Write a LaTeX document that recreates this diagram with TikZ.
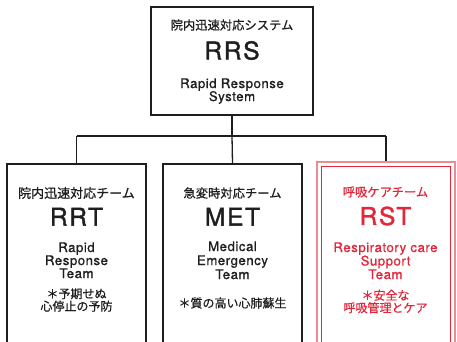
\documentclass[tikz,border=0pt]{standalone}
\usepackage{fontspec}
\setmainfont{TeX Gyre Heros}
\newfontfamily\enfont[LetterSpace=4,FakeBold=0.9]{TeX Gyre Heros}
\newfontfamily\abfont[LetterSpace=7,FakeBold=1.6]{TeX Gyre Heros}
\newfontfamily\jp[FakeBold=0.7]{Noto Sans CJK JP}
\definecolor{ink}{HTML}{1E1E1E}
\definecolor{rstred}{HTML}{E3263A}
\definecolor{rstpink}{HTML}{EE8A92}
\begin{document}
\begin{tikzpicture}[x=1pt,y=-1pt,
  box/.style={draw=ink,line width=1.3pt,rectangle,inner sep=0pt},
  conn/.style={draw=ink,line width=1.3pt},
  jptxt/.style={font=\jp\fontsize{12.3}{13}\selectfont,text=ink,inner sep=0pt},
  abbr/.style={font=\abfont\fontsize{24.5}{25}\selectfont,text=ink,inner sep=0pt},
  en/.style={font=\enfont\fontsize{13.2}{13.5}\selectfont,text=ink,inner sep=0pt,anchor=base},
  note/.style={font=\jp\fontsize{12}{12.5}\selectfont,text=ink,inner sep=0pt,align=center}]
\useasboundingbox (0,0) rectangle (457,341);
\clip (0,0) rectangle (457,341);
% boxes
\node[box,minimum width=162,minimum height=108] (rrs) at (232,61) {};
\node[box,minimum width=139,minimum height=200] (rrt) at (76.5,264) {};
\node[box,minimum width=139,minimum height=200] (met) at (232.5,264) {};
\node[draw=rstpink,line width=1.1pt,minimum width=138,minimum height=204,inner sep=0pt] (rsto) at (386,264) {};
\node[draw=rstred,line width=1pt,minimum width=129,minimum height=196,inner sep=0pt] (rst) at (385.5,264) {};
% connectors
\coordinate (j) at (232,136);
\coordinate (jl) at (rrt.north |- j);
\coordinate (jr) at (rsto.north |- j);
\draw[conn] (rrs.south) -- (j);
\draw[conn] (jl) -- (jr);
\draw[conn] (jl) -- (rrt.north);
\draw[conn] (j) -- (met.north);
\draw[conn] (jr) -- (rsto.north);
% RRS text
\node[jptxt] (t1) at (232,25) {院内迅速対応システム};
\node[abbr] (t2) at (232,50.5) {RRS};
\node[en] (t3) at (232,88) {Rapid Response};
\node[en] (t4) at (232,101) {System};
% RRT
\node[jptxt,font=\jp\fontsize{13}{13}\selectfont] (a1) at (76.5,193) {院内迅速対応チーム};
\node[abbr] (a2) at (76.5,216.7) {RRT};
\node[en] (a3) at (76.5,252) {Rapid};
\node[en] (a4) at (76.5,265) {Response};
\node[en] (a5) at (76.5,278) {Team};
\node[note] (a6) at (76.5,300) {＊予期せぬ\\心停止の予防};
% MET
\node[jptxt] (b1) at (232.5,193) {急変時対応チーム};
\node[abbr] (b2) at (232.5,216.7) {MET};
\node[en] (b3) at (232.5,251) {Medical};
\node[en] (b4) at (232.5,265) {Emergency};
\node[en] (b5) at (232.5,279) {Team};
\node[note] (b6) at (232.5,303) {＊質の高い心肺蘇生};
% RST
\node[jptxt,text=rstred] (c1) at (385.5,192) {呼吸ケアチーム};
\node[abbr,text=rstred] (c2) at (385.5,216) {RST};
\node[en,text=rstred] (c3) at (385.5,252) {Respiratory care};
\node[en,text=rstred] (c4) at (385.5,265.5) {Support};
\node[en,text=rstred] (c5) at (385.5,279) {Team};
\node[note,text=rstred] (c6) at (385.5,301.5) {＊安全な\\呼吸管理とケア};
\end{tikzpicture}
\end{document}
